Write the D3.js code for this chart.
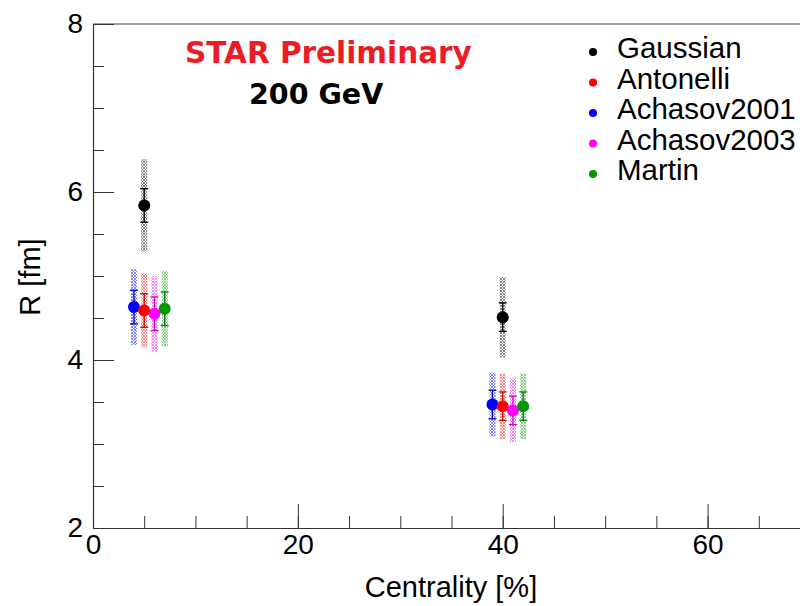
<!DOCTYPE html>
<html>
<head>
<meta charset="utf-8">
<script src="https://cdn.jsdelivr.net/npm/d3@7"></script>
<style>
  body { margin: 0; background: #fff; }
  svg { display: block; font-family: "Liberation Sans", Arial, sans-serif; }
</style>
</head>
<body>
<svg width="800" height="606"></svg>
<script>
// --- Data ---
const series = ['Gaussian', 'Antonelli', 'Achasov2001', 'Achasov2003', 'Martin'];
const colors = ['#000000', '#ff0000', '#0000ff', '#ff00ff', '#009900'];
const centrality = [[5, 40], [5, 40], [4, 39], [6, 41], [7, 42]];
const radius = [[5.84, 4.51], [4.59, 3.45], [4.63, 3.47], [4.55, 3.40], [4.61, 3.45]];
const statErr = [[0.20, 0.17], [0.20, 0.17], [0.20, 0.17], [0.20, 0.17], [0.20, 0.17]];
const sysErr = [[0.55, 0.48], [0.44, 0.39], [0.45, 0.38], [0.45, 0.38], [0.45, 0.39]];
const xMajor = [0, 20, 40, 60];
const yMajor = [2, 4, 6, 8];
const drawOrder = [0, 2, 1, 3, 4];

const svg = d3.select('svg');
const mLeft = 93, mRight = 810, mTop = 24, mBottom = 528;

const x = d3.scaleLinear().domain([0, 70]).range([mLeft, mRight]);
const y = d3.scaleLinear().domain([2, 8]).range([mBottom, mTop]);

// --- hatch patterns for systematic errors ---
const defs = svg.append('defs');
colors.forEach((c, i) => {
  const p = defs.append('pattern')
    .attr('id', 'hatch' + i)
    .attr('patternUnits', 'userSpaceOnUse')
    .attr('width', 3).attr('height', 3);
  p.append('path')
    .attr('d', 'M0,0 L3,3 M3,0 L0,3')
    .attr('stroke', c)
    .attr('stroke-width', 0.8)
    .attr('opacity', 0.6);
});

// --- frame ---
svg.append('line')
  .attr('x1', mLeft).attr('x2', 800).attr('y1', mTop).attr('y2', mTop)
  .attr('stroke', '#444').attr('stroke-width', 1.2);

// --- axes ---
const styleAxis = g => {
  g.selectAll('.domain').attr('stroke', '#333').attr('stroke-width', 1.2);
  g.selectAll('.tick line').attr('stroke', '#333').attr('stroke-width', 1);
  g.selectAll('text').attr('font-size', 28).attr('fill', '#000')
    .attr('font-family', '"Liberation Sans", Arial, sans-serif');
};

svg.append('g')
  .attr('transform', `translate(${mLeft},0)`)
  .call(d3.axisLeft(y).tickValues(d3.range(2, 8.01, 0.5)).tickSizeInner(-11).tickSizeOuter(0).tickFormat(''))
  .call(styleAxis);
svg.append('g')
  .attr('transform', `translate(${mLeft},0)`)
  .call(d3.axisLeft(y).tickValues(yMajor).tickSizeInner(-21).tickSizeOuter(0).tickPadding(10).tickFormat(d3.format('d')))
  .call(styleAxis)
  .call(g => g.select('.domain').remove());

svg.append('g')
  .attr('transform', `translate(0,${mBottom})`)
  .call(d3.axisBottom(x).tickValues(d3.range(0, 70, 5)).tickSizeInner(-12).tickSizeOuter(0).tickFormat(''))
  .call(styleAxis);
svg.append('g')
  .attr('transform', `translate(0,${mBottom})`)
  .call(d3.axisBottom(x).tickValues(xMajor).tickSizeInner(-24).tickSizeOuter(0).tickPadding(6).tickFormat(d3.format('d')))
  .call(styleAxis)
  .call(g => g.select('.domain').remove());

// --- axis titles ---
svg.append('text')
  .attr('x', 451).attr('y', 597)
  .attr('text-anchor', 'middle')
  .attr('font-size', 29)
  .text('Centrality [%]');

svg.append('text')
  .attr('transform', 'translate(40,277) rotate(-90)')
  .attr('text-anchor', 'middle')
  .attr('font-size', 29)
  .text('R [fm]');

// --- points ---
const plot = svg.append('g');
drawOrder.forEach(i => {
  centrality[i].forEach((c, j) => {
    const cx = x(c), r = radius[i][j];
    plot.append('rect')
      .attr('x', cx - 3).attr('width', 6)
      .attr('y', y(r + sysErr[i][j]))
      .attr('height', y(r - sysErr[i][j]) - y(r + sysErr[i][j]))
      .attr('fill', `url(#hatch${i})`);
  });
});
drawOrder.forEach(i => {
  centrality[i].forEach((c, j) => {
    const cx = x(c), r = radius[i][j];
    const y1 = y(r + statErr[i][j]), y2 = y(r - statErr[i][j]);
    const col = i === 0 ? '#000' : d3.color(colors[i]).darker(0.6);
    plot.append('line')
      .attr('x1', cx).attr('x2', cx).attr('y1', y1).attr('y2', y2)
      .attr('stroke', col).attr('stroke-width', 1.3);
    [y1, y2].forEach(yy => plot.append('line')
      .attr('x1', cx - 4).attr('x2', cx + 4).attr('y1', yy).attr('y2', yy)
      .attr('stroke', col).attr('stroke-width', 1.3));
  });
});
drawOrder.forEach(i => {
  centrality[i].forEach((c, j) => {
    plot.append('circle')
      .attr('cx', x(c)).attr('cy', y(radius[i][j]))
      .attr('r', 6)
      .attr('fill', colors[i]);
  });
});

// --- title texts ---
svg.append('text')
  .attr('x', 185).attr('y', 63)
  .style('font-family', '"DejaVu Sans", Verdana, sans-serif')
  .style('font-weight', 'bold')
  .style('font-size', '29.5px')
  .attr('fill', '#ed1c24')
  .text('STAR Preliminary');
svg.append('text')
  .attr('x', 249).attr('y', 104)
  .style('font-family', '"DejaVu Sans", Verdana, sans-serif')
  .style('font-weight', 'bold')
  .style('font-size', '28.5px')
  .attr('fill', '#000')
  .text('200 GeV');

// --- legend ---
const legend = svg.append('g');
series.forEach((s, i) => {
  const ly = 52 + i * 30.5;
  legend.append('circle')
    .attr('cx', 593).attr('cy', ly).attr('r', 4)
    .attr('fill', colors[i]);
  legend.append('text')
    .attr('x', 617).attr('y', ly + 6)
    .attr('font-size', 29.5)
    .text(s);
});
</script>
</body>
</html>
